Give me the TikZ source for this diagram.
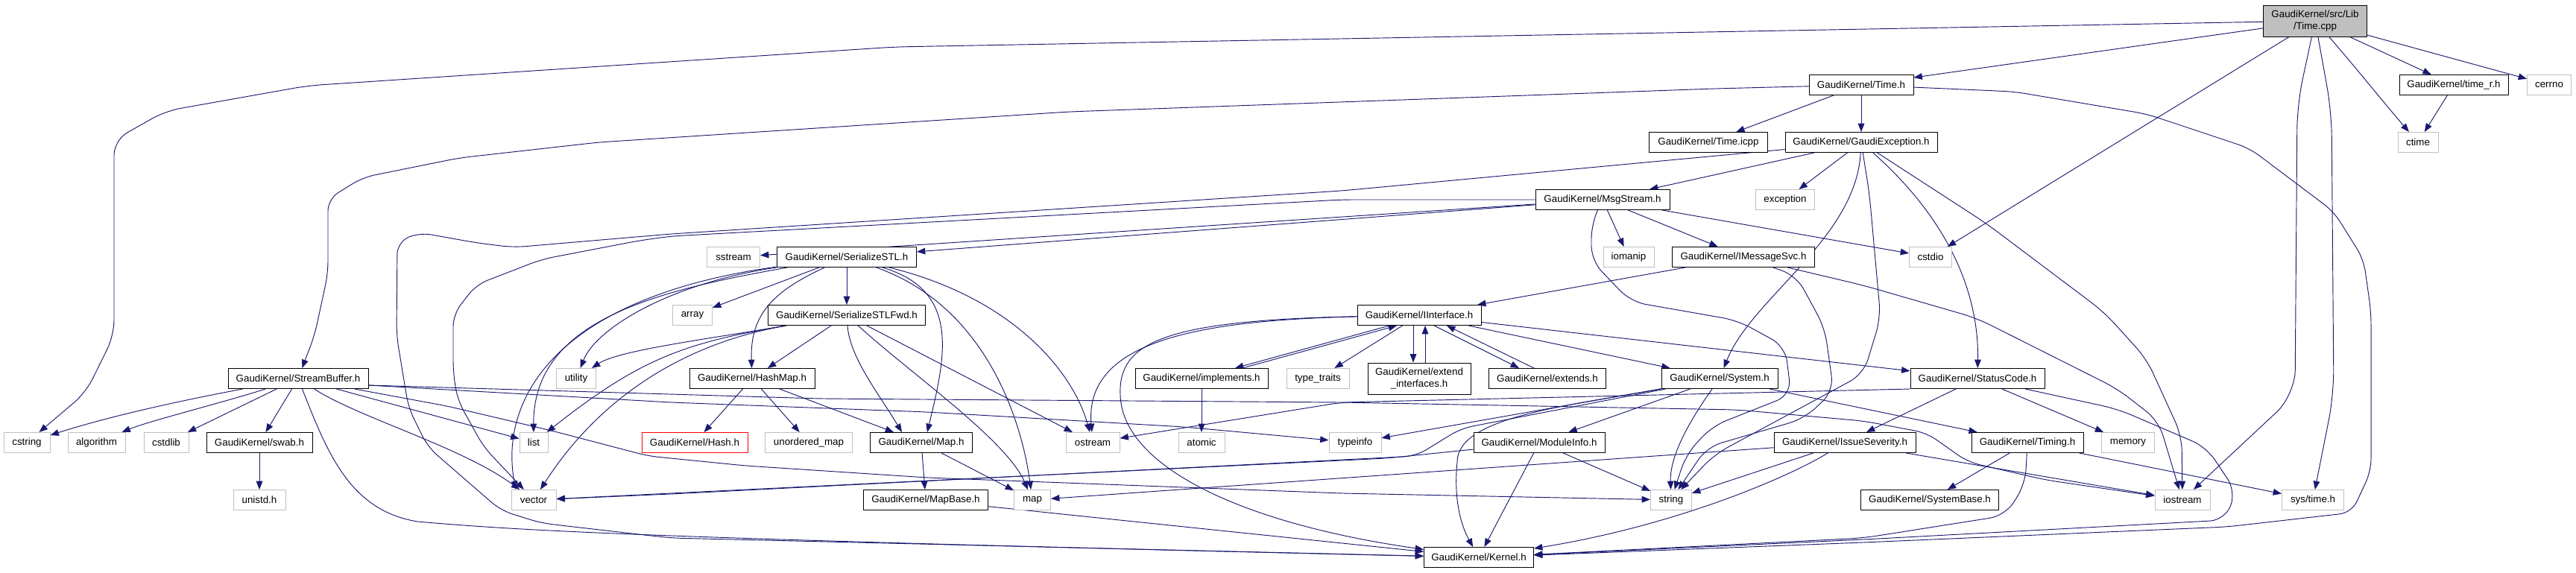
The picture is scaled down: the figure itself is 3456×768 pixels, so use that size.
\documentclass[tikz,border=0pt]{standalone}
\usepackage{fontspec}
\setmainfont{Liberation Sans}
\usetikzlibrary{arrows.meta,calc}
\definecolor{edgec}{HTML}{191970}
\definecolor{extc}{HTML}{BFBFBF}
\pgfdeclarelayer{edges}
\pgfsetlayers{edges,main}
\begin{document}
\begin{tikzpicture}[x=0.75pt,y=-0.75pt,
  every node/.style={font=\fontsize{10}{12}\selectfont},
  box/.style={rectangle,draw=black,line width=0.75pt,fill=white,inner sep=0pt,minimum height=20.25pt,align=center},
  ext/.style={box,draw=extc},
  bad/.style={box,draw=red},
  wd/.style={minimum width=#1*0.75pt},
  e/.style={draw=edgec,line width=0.7pt,-{Triangle[length=8.5pt,width=6.5pt]}}]
\useasboundingbox (0,0) rectangle (3456,768);
% row 0
\node[box,wd=139,minimum height=31.5pt,fill=extc] (cpp) at (3106,28) {GaudiKernel/src/Lib\\/Time.cpp};
% row 1
\node[box,wd=140] (timeh) at (2497,114) {GaudiKernel/Time.h};
\node[box,wd=146] (timer) at (3292,114) {GaudiKernel/time\_r.h};
\node[ext,wd=59] (cerrno) at (3420,114) {cerrno};
% row 2
\node[ext,wd=54] (ctime) at (3244,191) {ctime};
\node[box,wd=159] (icpp) at (2292,191) {GaudiKernel/Time.icpp};
\node[box,wd=204] (gexc) at (2497,191) {GaudiKernel/GaudiException.h};
% row 3
\node[box,wd=180] (msg) at (2150,268) {GaudiKernel/MsgStream.h};
\node[ext,wd=79] (exception) at (2395,268) {exception};
% row 4
\node[ext,wd=71] (sstream) at (984,345) {sstream};
\node[box,wd=187] (sstl) at (1136,345) {GaudiKernel/SerializeSTL.h};
\node[ext,wd=68] (iomanip) at (2185,345) {iomanip};
\node[box,wd=191] (imsg) at (2339,345) {GaudiKernel/IMessageSvc.h};
\node[ext,wd=57] (cstdio) at (2590,345) {cstdio};
% row 5
\node[ext,wd=53] (array) at (929,423) {array};
\node[box,wd=211] (sfwd) at (1136,423) {GaudiKernel/SerializeSTLFwd.h};
\node[box,wd=166] (iint) at (1904,423) {GaudiKernel/IInterface.h};
% row 6
\node[box,wd=188] (sbuf) at (400,508) {GaudiKernel/StreamBuffer.h};
\node[ext,wd=53] (utility) at (773,508) {utility};
\node[box,wd=168] (hmap) at (1009,508) {GaudiKernel/HashMap.h};
\node[box,wd=178] (impl) at (1612,508) {GaudiKernel/implements.h};
\node[ext,wd=84] (ttraits) at (1768,508) {type\_traits};
\node[box,wd=138,minimum height=31.5pt] (extif) at (1904,508) {GaudiKernel/extend\\\_interfaces.h};
\node[box,wd=157] (extends) at (2076,508) {GaudiKernel/extends.h};
\node[box,wd=156] (system) at (2307,508) {GaudiKernel/System.h};
\node[box,wd=180] (scode) at (2653,508) {GaudiKernel/StatusCode.h};
% row 7
\node[ext,wd=62] (cstring) at (36,594) {cstring};
\node[ext,wd=77] (algorithm) at (129.5,594) {algorithm};
\node[ext,wd=60] (cstdlib) at (223,594) {cstdlib};
\node[box,wd=142] (swab) at (348,594) {GaudiKernel/swab.h};
\node[ext,wd=38] (list) at (716,594) {list};
\node[bad,wd=142] (hash) at (932,594) {GaudiKernel/Hash.h};
\node[ext,wd=117] (umap) at (1085,594) {unordered\_map};
\node[box,wd=137] (maph) at (1236,594) {GaudiKernel/Map.h};
\node[ext,wd=72] (ostream) at (1466,594) {ostream};
\node[ext,wd=62] (atomic) at (1612,594) {atomic};
\node[ext,wd=70] (typeinfo) at (1818,594) {typeinfo};
\node[box,wd=176] (modinfo) at (2065,594) {GaudiKernel/ModuleInfo.h};
\node[box,wd=190] (issue) at (2475,594) {GaudiKernel/IssueSeverity.h};
\node[box,wd=150] (timing) at (2720,594) {GaudiKernel/Timing.h};
\node[ext,wd=71] (memory) at (2855,594) {memory};
% row 8
\node[ext,wd=70] (unistd) at (348,671) {unistd.h};
\node[ext,wd=60] (vector) at (716,671) {vector};
\node[box,wd=167] (mapbase) at (1242,671) {GaudiKernel/MapBase.h};
\node[ext,wd=49] (map) at (1385,671) {map};
\node[ext,wd=55] (string) at (2242,671) {string};
\node[box,wd=185] (sysbase) at (2589,671) {GaudiKernel/SystemBase.h};
\node[ext,wd=74] (iostream) at (2928,671) {iostream};
\node[ext,wd=83] (systime) at (3103,671) {sys/time.h};
% row 9
\node[box,wd=147] (kernel) at (1984,748) {GaudiKernel/Kernel.h};

\begin{pgfonlayer}{edges}
\fill[white] (0,0) rectangle (3456,768);
% Time.cpp
\draw[e,rounded corners=15pt] (cpp) -- (1200,63) -- (413,115) -- (222,149) -- (153,188) -- (153,450) -- (115,527) -- (cstring);
\draw[e] (cpp) -- (timeh);
\draw[e] (cpp) -- (cstdio);
\draw[e,rounded corners=25pt] (cpp) -- (3082,140) -- (3079,530) -- (iostream);
\draw[e,rounded corners=25pt] (cpp) -- (3128,150) -- (3131,530) -- (systime);
\draw[e] (cpp) .. controls (3160,90) and (3200,140) .. (ctime);
\draw[e] (cpp) -- (timer);
\draw[e] (cpp) -- (cerrno);
\draw[e] (timer) -- (ctime);
% Time.h
\draw[e] (timeh) -- (icpp);
\draw[e] (timeh) -- (gexc);
\draw[e,rounded corners=12pt] (timeh) -- (2702,123) -- (2880,153) -- (3018,199) -- (3131,284) -- (3171,348) -- (3181,419) -- (3181,632) -- (3155,688) -- (2988,707) -- (2500,728) -- (kernel);
\draw[e,rounded corners=12pt] (timeh) -- (2300,119) -- (1434,150) -- (803,191) -- (616,212) -- (487,238) -- (440,267) -- (440,367) -- (422,450) -- (sbuf);
% GaudiException
\draw[e] (gexc) -- (msg);
\draw[e] (gexc) -- (exception);
\draw[e] (gexc) .. controls (2490,320) and (2350,400) .. (system);
\draw[e,rounded corners=15pt] (gexc) -- (2508,260) -- (2523,427) -- (2500,502) -- (2300,610) -- (string);
\draw[e] (gexc) .. controls (2620,300) and (2655,400) .. (scode);
\draw[e,rounded corners=15pt] (gexc) -- (2665,300) -- (2823,419) -- (2880,482) -- (2927,585) -- (iostream);
\draw[e,rounded corners=12pt] (gexc) -- (1800,256) -- (900,314) -- (689,332) -- (640,326) -- (562,312) -- (533,325) -- (532,450) -- (548,547) -- (574,600) -- (672,685) -- (726,702) -- (900,722) -- (kernel);
% MsgStream
\draw[e] (msg) -- (sstream);
\draw[e] (msg) -- (sstl);
\draw[e,rounded corners=12pt] (msg) -- (1800,268) -- (900,317) -- (857,323) -- (727,348) -- (639,382) -- (608,422) -- (608,500) -- (614,537) -- (649,600) -- (vector);
\draw[e,rounded corners=15pt] (msg) -- (2135,300) -- (2135,350) -- (2188,405) -- (2331,430) -- (2395,465) -- (2403,530) -- (2297,572) -- (2262,610) -- (string);
\draw[e] (msg) -- (iomanip);
\draw[e] (msg) -- (imsg);
\draw[e] (msg) -- (cstdio);
% IMessageSvc
\draw[e] (imsg) -- (iint);
\draw[e,rounded corners=15pt] (imsg) -- (2410,370) -- (2448,440) -- (2460,525) -- (2420,562) -- (2290,600) -- (string);
\draw[e,rounded corners=15pt] (imsg) -- (2500,383) -- (2652,427) -- (2841,522) -- (2896,565) -- (iostream);
% SerializeSTL
\draw[e] (sstl) -- (array);
\draw[e] (sstl) -- (sfwd);
\draw[e] (sstl) .. controls (1040,390) and (1006,420) .. (hmap);
\draw[e] (sstl) .. controls (1290,390) and (1268,480) .. ($(maph.north)+(8,0)$);
\draw[e] (sstl) .. controls (1320,410) and (1370,560) .. (map);
\draw[e] (sstl) .. controls (1360,400) and (1440,500) .. (ostream);
\draw[e] (sstl) .. controls (900,380) and (800,440) .. (utility);
\draw[e] (sstl) .. controls (880,390) and (715,430) .. (list);
\draw[e] (sstl) .. controls (740,400) and (670,540) .. ($(vector.north)+(-24,0)$);
% SerializeSTLFwd
\draw[e] (sfwd) -- (hmap);
\draw[e] (sfwd) .. controls (1140,480) and (1180,530) .. ($(maph.north)+(-26,0)$);
\draw[e] (sfwd) .. controls (1220,500) and (1350,590) .. (map);
\draw[e] (sfwd) -- (ostream);
\draw[e] (sfwd) .. controls (950,455) and (830,470) .. (utility);
\draw[e] (sfwd) .. controls (920,460) and (860,480) .. (list);
\draw[e] (sfwd) .. controls (910,462) and (800,540) .. (vector);
% HashMap, Map
\draw[e] (hmap) -- (hash);
\draw[e] (hmap) -- (umap);
\draw[e] (hmap) -- (maph);
\draw[e] (maph) -- (mapbase);
\draw[e] (maph) -- (map);
\draw[e] (mapbase) -- (kernel);
% StreamBuffer
\draw[e] (sbuf) .. controls (230,540) and (143,560) .. (cstring);
\draw[e] (sbuf) .. controls (300,540) and (200,565) .. (algorithm);
\draw[e] (sbuf) -- (cstdlib);
\draw[e] (sbuf) -- (swab);
\draw[e] (sbuf) .. controls (440,610) and (470,685) .. (560,700) .. controls (700,712) and (850,722) .. (kernel);
\draw[e] (sbuf) .. controls (480,560) and (620,600) .. (vector);
\draw[e] (sbuf) -- (list);
\draw[e,rounded corners=10pt] (sbuf) -- (600,545) -- (740,578) -- (870,612) -- (1000,625) -- (1244,641) -- (1800,662) -- (string);
\draw[e,rounded corners=12pt] ($(sbuf.east)+(0,9)$) -- (900,540) -- (1244,553) -- (1589,573) -- (typeinfo);
\draw[e,rounded corners=12pt] ($(sbuf.east)+(0,9)$) -- (1100,535) -- (1800,540) -- (2331,550) -- (2500,565) -- (2585,581) -- (2640,620) -- (2744,644) -- (iostream);
\draw[e] (swab) -- (unistd);
% IInterface
\draw[e] (iint) .. controls (1600,430) and (1455,460) .. (ostream);
\draw[e] (iint) .. controls (1560,430) and (1500,460) .. (1503,530) .. controls (1505,620) and (1650,700) .. (kernel);
\draw[e] ($(iint.south)+(-40,0)$) -- ($(impl.north)+(45,0)$);
\draw[e] ($(impl.north)+(55,0)$) -- ($(iint.south)+(-30,0)$);
\draw[e] (iint) -- (ttraits);
\draw[e] ($(iint.south)+(-8,0)$) -- ($(extif.north)+(-8,0)$);
\draw[e] ($(extif.north)+(8,0)$) -- ($(iint.south)+(8,0)$);
\draw[e] ($(iint.south)+(20,0)$) -- ($(extends.north)+(-38,0)$);
\draw[e] ($(extends.north)+(-18,0)$) -- ($(iint.south)+(37,0)$);
\draw[e] (iint) -- (system);
\draw[e] (iint) -- (scode);
\draw[e] (impl) -- (atomic);
% System
\draw[e] (system) -- (typeinfo);
\draw[e,rounded corners=12pt] (system) -- (1960,575) -- (1900,612) -- (900,663) -- (vector);
\draw[e] (system) .. controls (2100,545) and (1955,560) .. (1955,620) .. controls (1950,670) and (1960,705) .. (kernel);
\draw[e] (system) -- (modinfo);
\draw[e] (system) .. controls (2270,560) and (2240,610) .. (string);
\draw[e] (system) -- (timing);
% ModuleInfo
\draw[e] (modinfo) -- (kernel);
\draw[e] (modinfo) -- (string);
\draw[e,rounded corners=10pt] (modinfo) -- (1860,615) -- (vector);
% StatusCode
\draw[e] (scode) -- (issue);
\draw[e] (scode) -- (memory);
\draw[e,rounded corners=15pt] (scode) -- (2841,549) -- (2960,600) -- (3000,660) -- (2985,698) -- (2500,724) -- (kernel);
\draw[e,rounded corners=12pt] (scode.south west) -- (1800,540) -- (ostream);
% IssueSeverity
\draw[e] (issue) .. controls (2400,640) and (2250,705) .. (kernel);
\draw[e] (issue) -- (string);
\draw[e] (issue) -- (map);
\draw[e] (issue) -- (iostream);
% Timing
\draw[e] (timing) -- (sysbase);
\draw[e] (timing) -- (systime);
\draw[e,rounded corners=15pt] (timing) -- (2717,650) -- (2690,692) -- (2500,722) -- (kernel);
\end{pgfonlayer}
\end{tikzpicture}
\end{document}
